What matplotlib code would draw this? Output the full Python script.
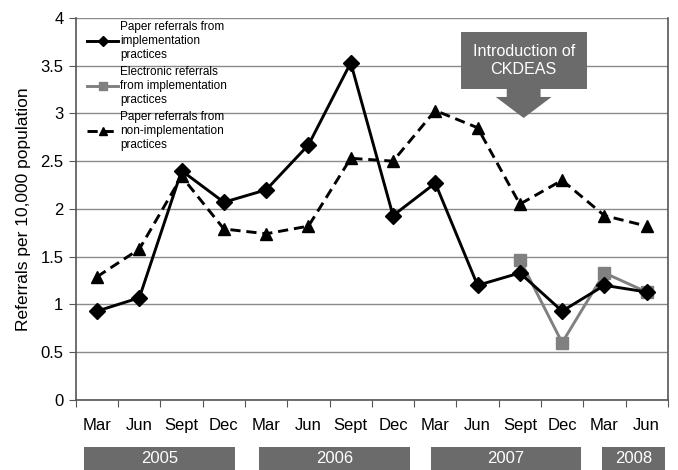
import matplotlib
matplotlib.use("Agg")
import matplotlib.pyplot as plt
import matplotlib.transforms as mtrans
from matplotlib.patches import Rectangle, Polygon
import numpy as np

months = ["Mar", "Jun", "Sept", "Dec", "Mar", "Jun", "Sept", "Dec",
          "Mar", "Jun", "Sept", "Dec", "Mar", "Jun"]
years = ["2005", "2006", "2007", "2008"]
paper_impl = [0.93, 1.07, 2.40, 2.07, 2.20, 2.67, 3.53, 1.93, 2.27, 1.20, 1.33, 0.93, 1.20, 1.13]
electronic_impl = [None] * 10 + [1.47, 0.60, 1.33, 1.13]
paper_nonimpl = [1.29, 1.58, 2.34, 1.79, 1.74, 1.82, 2.53, 2.50, 3.03, 2.85, 2.05, 2.30, 1.93, 1.82]

plt.rcParams['font.family'] = ['Liberation Sans', 'DejaVu Sans']

fig = plt.figure(figsize=(6.78, 4.70), dpi=100)
ax = fig.add_axes([0.112, 0.149, 0.873, 0.813])

x = np.arange(len(months))
e = np.array([np.nan if v is None else v for v in electronic_impl], dtype=float)

ax.plot(x, paper_impl, color="black", lw=2.1, marker="D", ms=8,
        label="Paper referrals from\nimplementation\npractices", zorder=4)
ax.plot(x, e, color="#808080", lw=2.1, marker="s", ms=8.5,
        label="Electronic referrals\nfrom implementation\npractices", zorder=3)
ax.plot(x, paper_nonimpl, color="black", lw=2.1, ls=(0, (3.5, 2)), marker="^", ms=9,
        label="Paper referrals from\nnon-implementation\npractices", zorder=3)

ax.set_xlim(-0.5, len(months) - 0.5)
ax.set_ylim(0, 4)
ax.set_yticks(np.arange(0, 4.01, 0.5))
ax.set_yticklabels(["0", "0.5", "1", "1.5", "2", "2.5", "3", "3.5", "4"], fontsize=12)
ax.yaxis.grid(True, color="#8a8a8a", lw=1)
ax.set_axisbelow(True)

ax.set_xticks(np.arange(-0.5, len(months), 1.0))
ax.set_xticklabels([])
ax.set_xticks(x, minor=True)
ax.set_xticklabels(months, minor=True, fontsize=12)
ax.tick_params(axis="x", which="minor", length=0, pad=13)
ax.tick_params(axis="x", which="major", length=5, color="#555555", direction="out")
ax.tick_params(axis="y", length=5, color="#555555", pad=4)

ax.spines["top"].set_visible(False)
for s in ["left", "bottom", "right"]:
    ax.spines[s].set_color("#555555")
    ax.spines[s].set_linewidth(1.2)

ax.set_ylabel("Referrals per 10,000 population", fontsize=12.5, labelpad=7)

leg = ax.legend(loc="upper left", bbox_to_anchor=(0.005, 1.013), frameon=False,
                fontsize=8.5, handlelength=2.6, handletextpad=0.2,
                labelspacing=0.45, borderaxespad=0.3, markerscale=0.7)

# Year boxes below the axis
trans = mtrans.blended_transform_factory(ax.transData, ax.transAxes)
year_spans = [(-0.31, 3.26), (3.83, 7.40), (7.89, 11.44), (11.94, 13.43)]
for (a, b), yr in zip(year_spans, years):
    r = Rectangle((a, -0.123), b - a, -0.07, transform=trans, facecolor="#6b6b6b",
                  edgecolor="none", clip_on=False)
    ax.add_patch(r)
    ax.text((a + b) / 2, -0.153, yr, transform=trans, ha="center", va="center",
            color="white", fontsize=12, clip_on=False)

# Annotation box with down arrow
box_l, box_r = 8.6, 11.58
ax.add_patch(Rectangle((box_l, 0.814), box_r - box_l, 0.149, transform=trans,
                       facecolor="#6b6b6b", edgecolor="none", zorder=5))
cx = 10.09
arrow = Polygon([(cx - 0.40, 0.815), (cx + 0.40, 0.815), (cx + 0.40, 0.793),
                 (cx + 0.66, 0.793), (cx, 0.738), (cx - 0.66, 0.793), (cx - 0.40, 0.793)],
                closed=True, transform=trans, facecolor="#6b6b6b", edgecolor="none", zorder=5)
ax.add_patch(arrow)
ax.text((box_l + box_r) / 2, 0.888, "Introduction of\nCKDEAS", transform=trans,
        ha="center", va="center", color="white", fontsize=11.6, zorder=6,
        linespacing=1.2)

fig.savefig("out.png", dpi=100)
